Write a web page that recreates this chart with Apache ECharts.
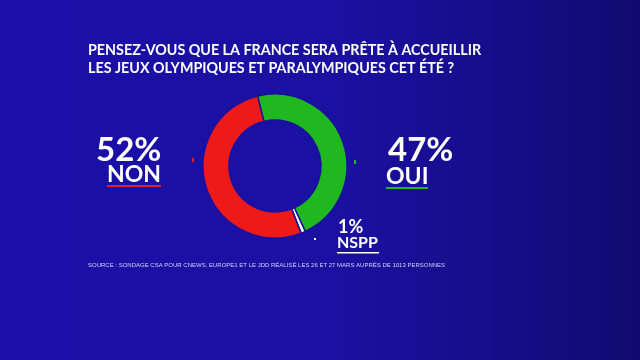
<!DOCTYPE html>
<html><head><meta charset="utf-8">
<style>html,body{margin:0;padding:0;}#c{width:640px;height:360px;}</style>
<script src="https://cdn.jsdelivr.net/npm/echarts@6/dist/echarts.min.js"></script>
</head><body><div id="c"></div>
<script>
var titleLines = ['PENSEZ-VOUS QUE LA FRANCE SERA PRÊTE À ACCUEILLIR', 'LES JEUX OLYMPIQUES ET PARALYMPIQUES CET ÉTÉ ?'];
var categories = ['OUI', 'NSPP', 'NON'];
var values = [47, 1, 52];
var colors = ['#1fb81f', '#ffffff', '#ee1a1a'];
var source = 'SOURCE : SONDAGE CSA POUR CNEWS, EUROPE1 ET LE JDD RÉALISÉ LES 26 ET 27 MARS AUPRÈS DE 1013 PERSONNES';

var chart = echarts.init(document.getElementById('c'));
var font = 'Lato';
var bg = {type:'linear', x:0, y:0, x2:1, y2:0, colorStops:[{offset:0,color:'#1b10a8'},{offset:0.55,color:'#1a10a0'},{offset:1,color:'#100a70'}]};
chart.setOption({
  backgroundColor: bg,
  animation: false,
  series: [{
    type: 'pie',
    center: [275, 166],
    radius: [46, 72],
    startAngle: 104,
    clockwise: true,
    label: {show:false},
    labelLine: {show:false},
    itemStyle: {borderColor:'#1a10a0', borderWidth:1.5},
    data: categories.map(function(c,i){return {name:c, value:values[i], itemStyle:{color:colors[i]}};})
  }],
  graphic: [
    {type:'text', left:88, top:41, style:{text: titleLines.join('\n'), fill:'#fff', font:'bold 14.3px '+font, lineHeight:18}},
    {type:'text', left:96, top:134, style:{text: values[2]+'%', fill:'#fff', font:'bold 33px '+font}},
    {type:'text', left:107, top:163, style:{text: categories[2], fill:'#fff', font:'bold 23px '+font}},
    {type:'rect', shape:{x:107, y:185, width:54, height:2}, style:{fill:'#ee1a1a'}},
    {type:'text', left:388, top:134, style:{text: values[0]+'%', fill:'#fff', font:'bold 33px '+font}},
    {type:'text', left:386, top:165, style:{text: categories[0], fill:'#fff', font:'bold 23px '+font}},
    {type:'rect', shape:{x:386, y:187, width:42, height:2}, style:{fill:'#1fb81f'}},
    {type:'text', left:338, top:218, style:{text: values[1]+'%', fill:'#fff', font:'bold 18px '+font}},
    {type:'text', left:337, top:235, style:{text: categories[1], fill:'#fff', font:'bold 16px '+font}},
    {type:'rect', shape:{x:337, y:252, width:42, height:1.5}, style:{fill:'#ffffff'}},
    {type:'rect', shape:{x:192, y:158, width:2, height:4}, style:{fill:'#ee1a1a'}},
    {type:'rect', shape:{x:354, y:160, width:2, height:4}, style:{fill:'#1fb81f'}},
    {type:'rect', shape:{x:314, y:238, width:2, height:2}, style:{fill:'#ffffff'}},
    {type:'text', left:88, top:262, style:{text: source, fill:'#d0d0f2', font:'6px "Liberation Sans"'}}
  ]
});
</script></body></html>
